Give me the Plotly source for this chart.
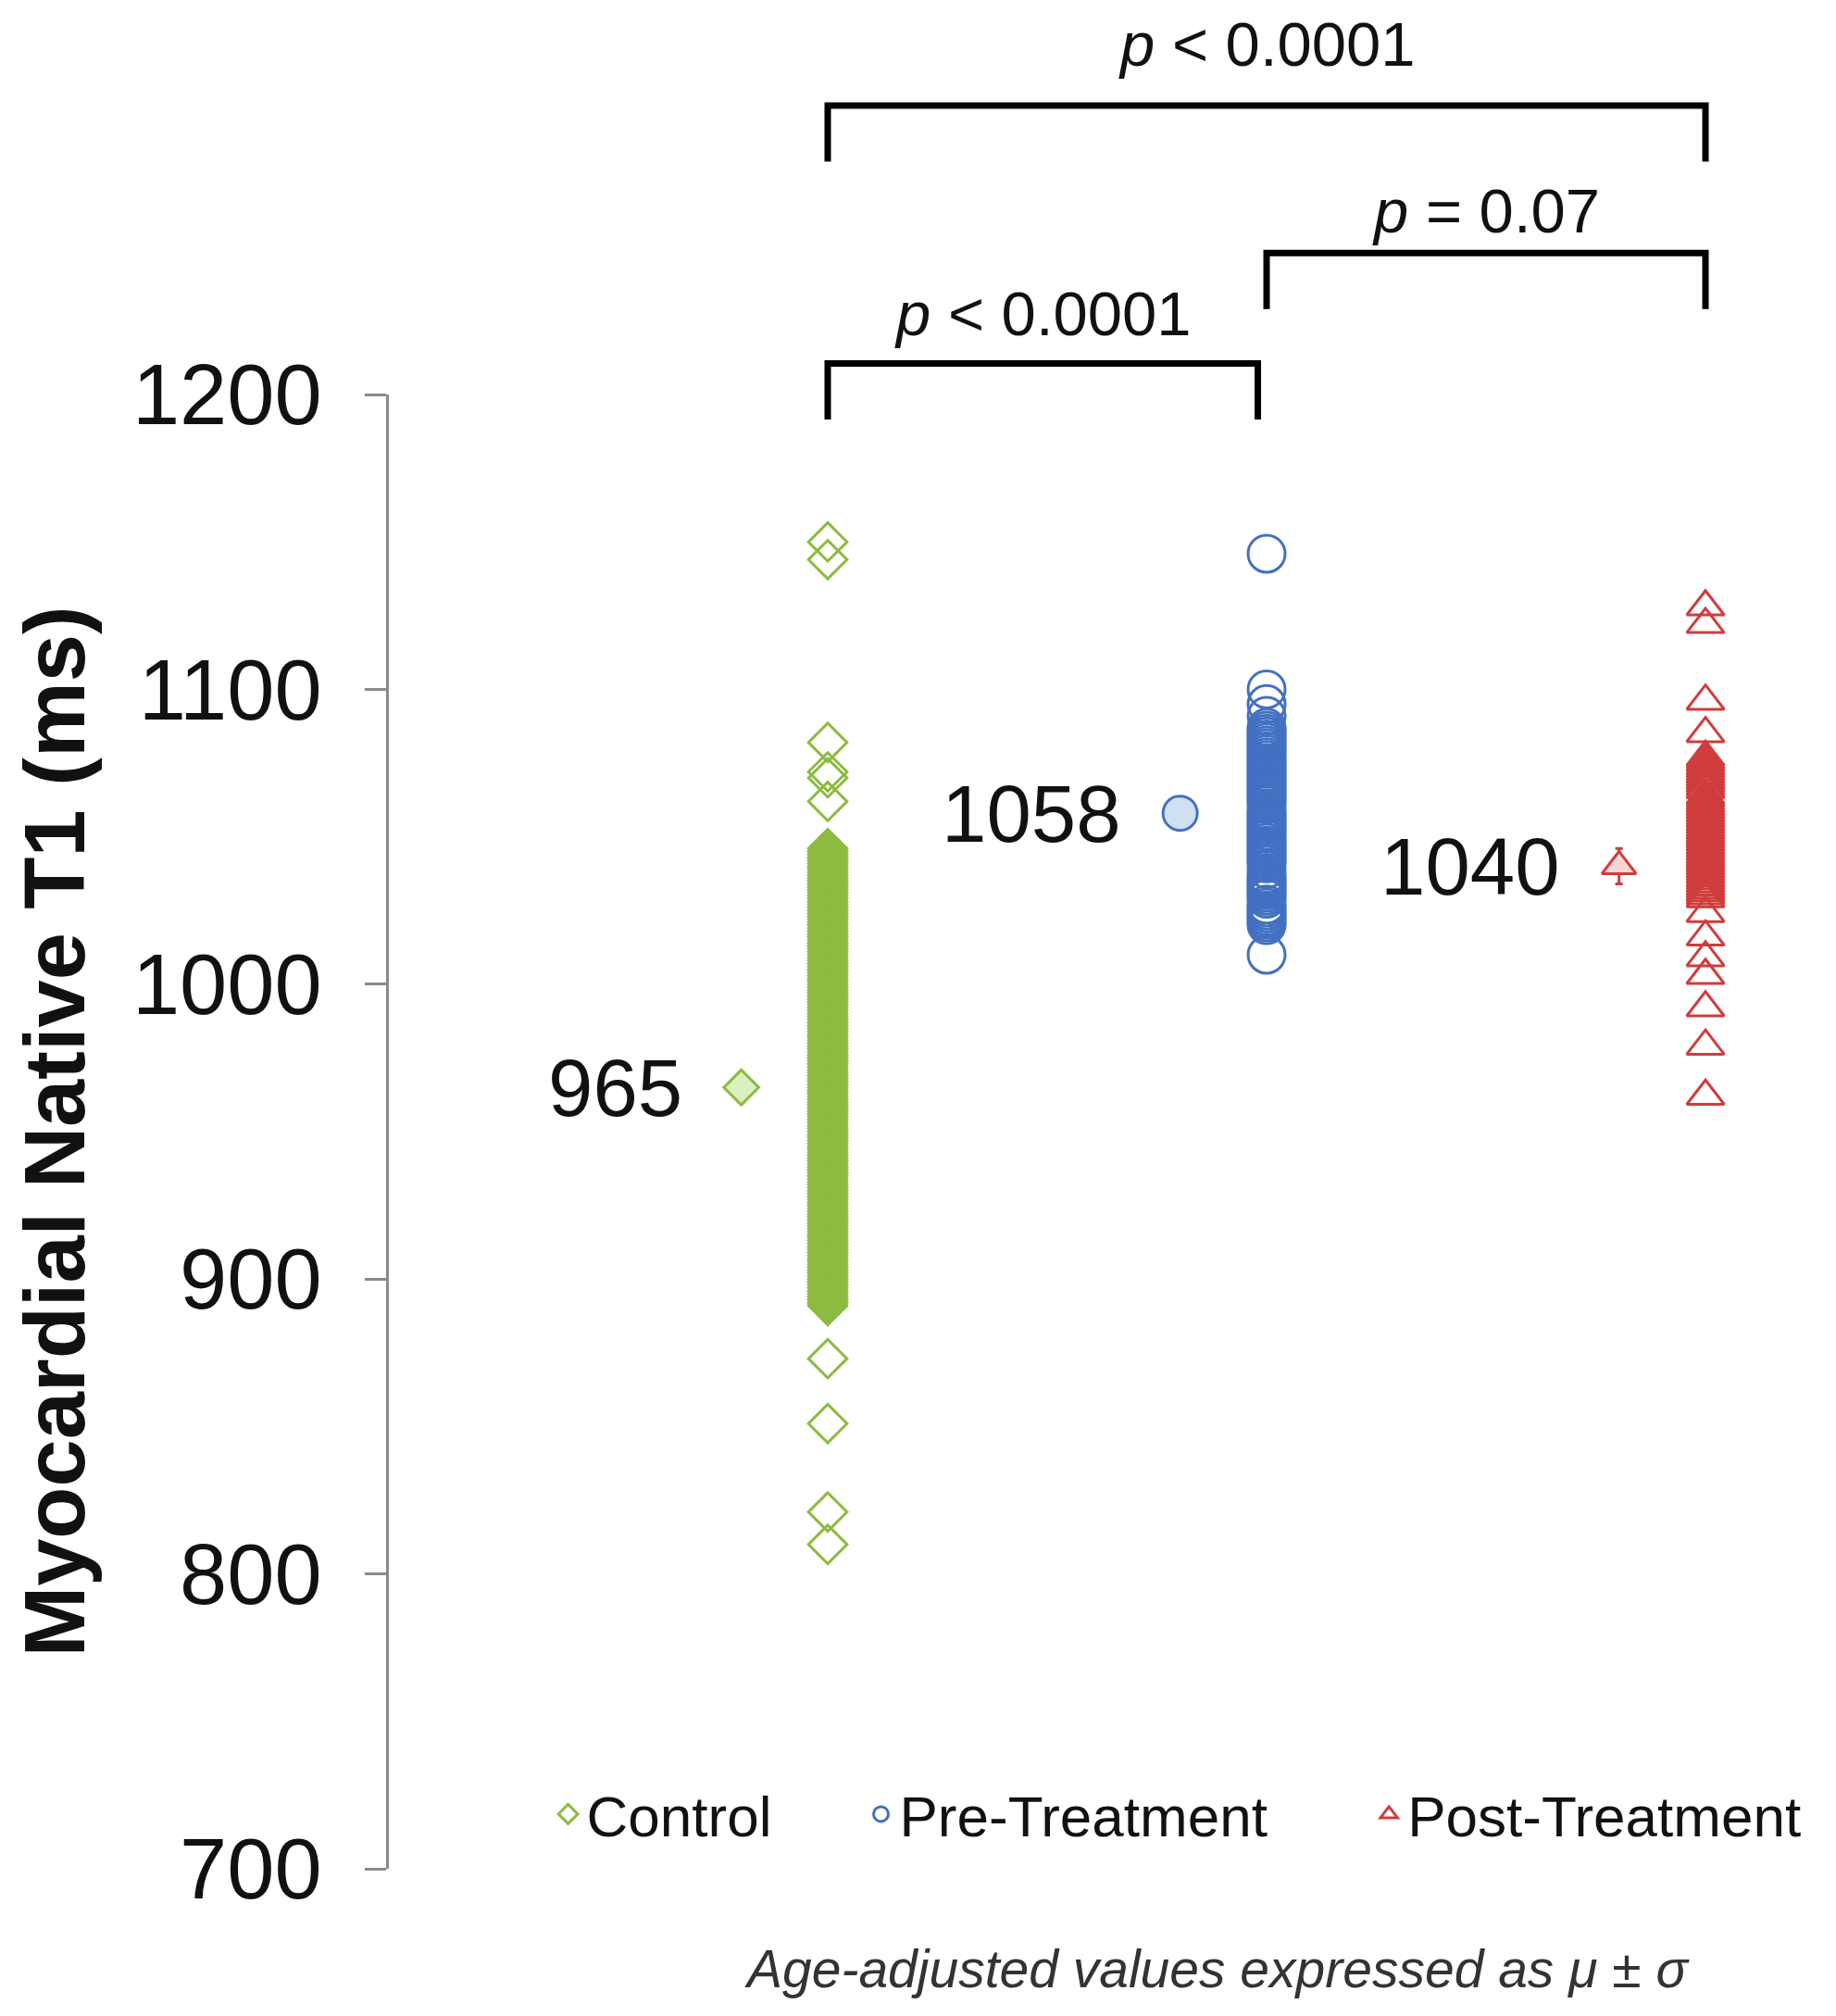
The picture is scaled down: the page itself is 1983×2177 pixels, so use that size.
import plotly.graph_objects as go

# ---------------- data ----------------
groups = ["Control", "Pre-Treatment", "Post-Treatment"]
group_pos = [1, 2, 3]

control_t1 = [1150, 1144, 1082, 1072, 1070, 1062,
              1046, 1045, 1044, 1043, 1042, 1041, 1040, 1039, 1038, 1037, 1036, 1035,
              1034, 1033, 1032, 1031, 1030, 1029, 1028, 1027, 1026, 1025, 1024, 1023,
              1022, 1021, 1020, 1019, 1018, 1017, 1016, 1015, 1014, 1013, 1012, 1011,
              1010, 1009, 1008, 1007, 1006, 1005, 1004, 1003, 1002, 1001, 1000, 999,
              998, 997, 996, 995, 994, 993, 992, 991, 990, 989, 988, 987, 986, 985,
              984, 983, 982, 981, 980, 979, 978, 977, 976, 975, 974, 973, 972, 971,
              970, 969, 968, 967, 966, 965, 964, 963, 962, 961, 960, 959, 958, 957,
              956, 955, 954, 953, 952, 951, 950, 949, 948, 947, 946, 945, 944, 943,
              942, 941, 940, 939, 938, 937, 936, 935, 934, 933, 932, 931, 930, 929,
              928, 927, 926, 925, 924, 923, 922, 921, 920, 919, 918, 917, 916, 915,
              914, 913, 912, 911, 910, 909, 908, 907, 906, 905, 904, 903, 902, 901,
              900, 899, 898, 897, 896, 895, 894, 893, 892, 891,
              873, 851, 821, 810]
pre_t1 = [1146, 1100, 1095, 1091, 1087, 1086, 1085, 1084, 1083, 1082, 1081, 1080,
          1079, 1078, 1077, 1076, 1075, 1074, 1073, 1072, 1071, 1070, 1069, 1068,
          1067, 1066, 1065, 1064, 1063, 1062, 1061, 1059, 1058, 1057, 1056, 1055,
          1054, 1053, 1052, 1051, 1050, 1049, 1048, 1047, 1046, 1045, 1044, 1043,
          1042, 1041, 1039, 1037, 1036, 1035, 1034, 1033, 1032, 1031, 1030, 1029,
          1027, 1026, 1025, 1024, 1023, 1022, 1021, 1020, 1010]
post_t1 = [1128, 1122, 1096, 1085, 1077, 1076, 1075, 1074, 1073, 1072, 1071, 1070,
           1069, 1068, 1067, 1066, 1064, 1063, 1062, 1061, 1060, 1059, 1058, 1057,
           1056, 1055, 1054, 1053, 1052, 1051, 1050, 1049, 1048, 1047, 1046, 1045,
           1044, 1043, 1042, 1041, 1040, 1039, 1038, 1037, 1036, 1035, 1034, 1033,
           1032, 1031, 1030, 1029, 1024, 1016, 1009, 1003, 992, 979, 962]

means = [965, 1058, 1040]
mean_err = [5, 5, 6]
mean_labels = ["965", "1058", "1040"]

p_labels = ["<i>p</i> < 0.0001", "<i>p</i> = 0.07", "<i>p</i> < 0.0001"]
p_pairs = [(0, 2), (1, 2), (0, 1)]

y_ticks = [700, 800, 900, 1000, 1100, 1200]

# ---------------- style ----------------
colors = ["#8CBB3F", "#4270C2", "#D03C3C"]
fills = ["#DDEFBF", "#CFE0F3", "#F5D6D6"]
symbols = ["diamond-open", "circle-open", "triangle-up-open"]
fill_symbols = ["diamond", "circle", "triangle-up"]
sizes = [32, 40, 35]
mean_offset = -0.197
FONT = "Liberation Sans, Arial, sans-serif"

fig = go.Figure()
series = [control_t1, pre_t1, post_t1]
legend_ids = ["legend", "legend2", "legend3"]
for i, vals in enumerate(series):
    fig.add_trace(go.Scatter(
        x=[group_pos[i]] * len(vals), y=vals, mode="markers", name=groups[i],
        legend=legend_ids[i],
        marker=dict(symbol=symbols[i], size=sizes[i], color=colors[i],
                    line=dict(width=3, color=colors[i])),
        cliponaxis=False,
    ))

for i in range(3):
    fig.add_trace(go.Scatter(
        x=[group_pos[i] + mean_offset], y=[means[i]], mode="markers",
        showlegend=False,
        marker=dict(symbol=fill_symbols[i], size=sizes[i] - 3, color=fills[i],
                    line=dict(width=3, color=colors[i])),
        error_y=dict(type="data", array=[mean_err[i]], color=colors[i],
                     thickness=3, width=4),
        cliponaxis=False,
    ))
    fig.add_annotation(x=group_pos[i] + mean_offset, y=means[i], xref="x", yref="y",
                       text=mean_labels[i], showarrow=False, xanchor="right",
                       yanchor="middle", xshift=-62,
                       font=dict(family=FONT, size=87, color="#111111"))

# significance brackets
bracket_h = [1.196, 1.096, 1.021]
bracket_drop = 0.038
text_y = [1.238, 1.125, 1.055]
for (a, b), h, ty, lab in zip(p_pairs, bracket_h, text_y, p_labels):
    xa, xb = group_pos[a], group_pos[b]
    if (a, b) == (0, 1):
        xb = group_pos[b] - 0.02
    fig.add_shape(type="path", xref="x", yref="paper",
                  path=f"M {xa} {h - bracket_drop} L {xa} {h} L {xb} {h} L {xb} {h - bracket_drop}",
                  line=dict(color="black", width=7))
    fig.add_annotation(x=(xa + xb) / 2, y=ty, xref="x", yref="paper", text=lab,
                       showarrow=False, xanchor="center", yanchor="middle",
                       font=dict(family=FONT, size=67, color="#111111"))

fig.add_annotation(x=0.577, y=-0.068, xref="paper", yref="paper",
                   text="<i>Age-adjusted values expressed as μ ± σ</i>",
                   showarrow=False, xanchor="center", yanchor="middle",
                   font=dict(family=FONT, size=57, color="#333333"))

legend_common = dict(orientation="h", yanchor="middle", xanchor="left",
                     bgcolor="rgba(0,0,0,0)", borderwidth=0,
                     font=dict(family=FONT, size=62, color="#111111"))
fig.update_layout(
    width=1983, height=2177,
    margin=dict(l=412, r=21, t=418, b=167),
    paper_bgcolor="white", plot_bgcolor="white",
    showlegend=True,
    legend=dict(x=0.112, y=0.037, **legend_common),
    legend2=dict(x=0.330, y=0.037, **legend_common),
    legend3=dict(x=0.684, y=0.037, **legend_common),
    xaxis=dict(range=[0, 3.27], visible=False),
    yaxis=dict(range=[700, 1200], tickvals=y_ticks, ticks="outside", ticklen=23,
               tickwidth=3, tickcolor="#8a8a8a", showline=True, linecolor="#8a8a8a",
               linewidth=3, showgrid=False, zeroline=False,
               tickfont=dict(family=FONT, size=92, color="#111111"),
               ticklabelstandoff=28,
               title=dict(text="<b>Myocardial Native T1 (ms)</b>", standoff=36,
                          font=dict(family=FONT, size=92, color="#111111"))),
)

fig.write_html("out.html")
